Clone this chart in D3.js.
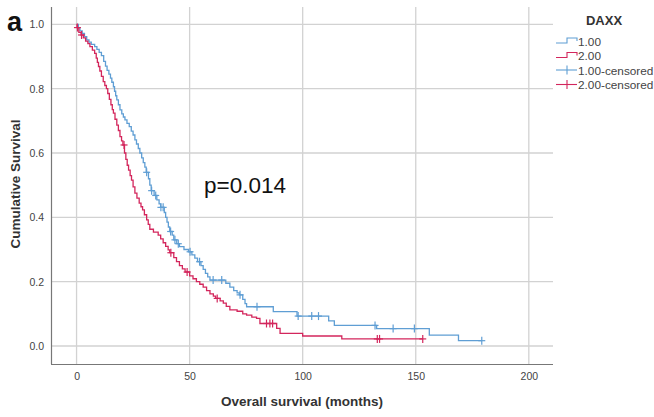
<!DOCTYPE html>
<html><head><meta charset="utf-8">
<script src="https://cdn.jsdelivr.net/npm/d3@7"></script>
<style>body{margin:0;background:#fff}svg{display:block}text{font-family:"Liberation Sans",Arial,sans-serif}</style>
</head><body><svg id="c" width="654" height="417"></svg>
<script>
// Kaplan-Meier steps: [time (months), survival after event]
const blueSteps = [[0.8,0.99],[1.5,0.98],[2.5,0.972],[3.5,0.962],[4.5,0.952],[5.5,0.945],[6.5,0.938],[8,0.931],[9,0.922],[10,0.913],[11,0.903],[12,0.885],[12.8,0.87],[13.5,0.857],[14.3,0.845],[15,0.833],[15.6,0.82],[16.3,0.806],[16.8,0.792],[17.3,0.778],[17.8,0.765],[18.5,0.75],[19.2,0.734],[20,0.722],[20.7,0.712],[21.4,0.703],[22.3,0.692],[23.3,0.682],[24.2,0.668],[25,0.656],[25.8,0.641],[26.5,0.628],[27.3,0.614],[28,0.6],[28.8,0.585],[29.5,0.57],[30.2,0.556],[30.8,0.54],[31.8,0.52],[32.4,0.5],[33,0.483],[34.3,0.468],[35.5,0.454],[36.5,0.442],[37.2,0.431],[38.8,0.415],[39.4,0.4],[40,0.385],[40.6,0.37],[41.2,0.356],[42.3,0.345],[43,0.33],[44.3,0.318],[45.5,0.309],[47.5,0.3],[49.5,0.293],[51,0.283],[52.3,0.273],[53.5,0.262],[55,0.25],[56,0.238],[57,0.226],[58,0.215],[59,0.205],[66,0.195],[67.8,0.183],[69.5,0.172],[71,0.165],[72,0.159],[73.5,0.145],[74.5,0.132],[75.2,0.122],[87,0.107],[97.5,0.093],[111.5,0.078],[114,0.064],[132.7,0.054],[156,0.034],[168.9,0.0165]];
const blueEnd = 179.2;
const blueCensored = [31,33.2,35,37.3,38.3,41.6,43.5,45,50.2,54.4,60.4,64.2,72.3,79.8,98,104,107,132,140,149.4,179.2];

const redSteps = [[0.2,0.99],[1,0.975],[2,0.967],[3,0.958],[4,0.948],[5,0.94],[5.9,0.931],[7,0.92],[8,0.91],[8.7,0.895],[9.2,0.882],[9.7,0.869],[10.3,0.855],[11,0.838],[11.8,0.822],[12.5,0.81],[13.2,0.8],[13.8,0.785],[14.5,0.767],[15.2,0.75],[15.8,0.735],[16.3,0.724],[17,0.705],[17.8,0.687],[18.5,0.67],[19.2,0.651],[19.9,0.638],[20.5,0.625],[21.2,0.6],[21.8,0.58],[22.4,0.562],[23,0.547],[23.7,0.53],[24.3,0.516],[25,0.495],[25.8,0.475],[26.7,0.46],[27.7,0.444],[28.5,0.433],[29.2,0.423],[30,0.408],[31,0.392],[31.7,0.378],[32.4,0.363],[34,0.354],[36.1,0.345],[37.2,0.333],[38.3,0.321],[39.4,0.31],[40.5,0.299],[41.2,0.29],[43,0.275],[44.2,0.262],[45.5,0.25],[46.8,0.24],[48,0.23],[50,0.218],[51.5,0.209],[53,0.2],[54.5,0.192],[56,0.183],[57.5,0.172],[59,0.162],[60.5,0.155],[61.5,0.148],[63.5,0.14],[64.9,0.133],[66.2,0.123],[67.8,0.112],[71,0.108],[73.5,0.1],[75.2,0.096],[77.5,0.09],[79.6,0.086],[81.1,0.07],[88.5,0.055],[90,0.039],[100,0.031],[117.3,0.022]];
const redEnd = 153.1;
const redCensored = [0.4,2.2,21,41.7,48.9,62.2,84,85.5,86.7,133,134,153.1];

const xTicks = [0,50,100,150,200];
const yTicks = [0.0,0.2,0.4,0.6,0.8,1.0];
const legendLabels = ["1.00","2.00","1.00-censored","2.00-censored"];
const colors = {blue:"#5f9ed4", red:"#d3265c"};

const svg = d3.select("#c");
const L=51, R=553, T=7, B=364;
const x = d3.scaleLinear().domain([-11.3,210.7]).range([L,R]);
const y = d3.scaleLinear().domain([-0.056,1.054]).range([B,T]);

// grid
const g = svg.append("g");
g.selectAll(".vg").data(xTicks).join("line")
 .attr("x1",d=>x(d)).attr("x2",d=>x(d)).attr("y1",T).attr("y2",B)
 .attr("stroke","#d2d2d2").attr("stroke-width",1.3);
g.selectAll(".hg").data(yTicks).join("line")
 .attr("x1",L).attr("x2",R).attr("y1",d=>y(d)).attr("y2",d=>y(d))
 .attr("stroke","#d2d2d2").attr("stroke-width",1.3);

// axes
const xAxis = svg.append("g").attr("transform",`translate(0,${B})`)
 .call(d3.axisBottom(x).tickValues(xTicks).tickSize(0).tickPadding(9).tickFormat(d3.format("d")));
const yAxis = svg.append("g").attr("transform",`translate(${L},0)`)
 .call(d3.axisLeft(y).tickValues(yTicks).tickSize(0).tickPadding(7).tickFormat(d3.format(".1f")));
[xAxis,yAxis].forEach(a=>{
  a.select(".domain").attr("stroke","#777").attr("stroke-width",1.2);
  a.selectAll("text").attr("fill","#444").attr("font-size",10.5).attr("font-family","Liberation Sans, Arial, sans-serif");
});
xAxis.select(".domain").attr("d",`M${L},0.5H${R}`);
yAxis.select(".domain").attr("d",`M0.5,${B}V${T}`);

function survAt(steps,t){let s=1;for(const [tt,v] of steps){if(tt<=t) s=v; else break;}return s;}
function pathFor(steps,end){
  const pts=[[0,1]];
  let s=1;
  for(const [t,v] of steps){pts.push([t,s]);pts.push([t,v]);s=v;}
  pts.push([end,s]);
  return d3.line().x(d=>x(d[0])).y(d=>y(d[1]))(pts);
}
function drawCurve(steps,end,cens,col){
  svg.append("path").attr("d",pathFor(steps,end)).attr("fill","none")
   .attr("stroke",col).attr("stroke-width",1.3);
  const cg=svg.append("g");
  cens.forEach(t=>{
    const cx=x(t), cy=y(survAt(steps,t));
    cg.append("line").attr("x1",cx).attr("x2",cx).attr("y1",cy-4).attr("y2",cy+4).attr("stroke",col).attr("stroke-width",1.2);
    cg.append("line").attr("x1",cx-3.5).attr("x2",cx+3.5).attr("y1",cy).attr("y2",cy).attr("stroke",col).attr("stroke-width",1.2);
  });
}
drawCurve(blueSteps,blueEnd,blueCensored,colors.blue);
drawCurve(redSteps,redEnd,redCensored,colors.red);

// labels
svg.append("text").attr("x",7).attr("y",31).attr("font-size",27).attr("font-weight","bold").attr("fill","#111").text("a");
svg.append("text").attr("x",204).attr("y",193).attr("font-size",22.5).attr("fill","#111").text("p=0.014");
svg.append("text").attr("x",302).attr("y",406).attr("text-anchor","middle").attr("font-size",13.5).attr("font-weight","bold").attr("fill","#333").text("Overall survival (months)");
svg.append("text").attr("transform","translate(20,184) rotate(-90)").attr("text-anchor","middle").attr("font-size",13.5).attr("font-weight","bold").attr("fill","#333").text("Cumulative Survival");

// legend
svg.append("text").attr("x",604).attr("y",25).attr("text-anchor","middle").attr("font-size",13).attr("font-weight","bold").attr("fill","#333").text("DAXX");
const legCols=[colors.blue,colors.red,colors.blue,colors.red];
legendLabels.forEach((lab,i)=>{
  const yy=42+i*14.5;
  const col=legCols[i];
  if(i<2){
    svg.append("path").attr("d",`M556,${yy+1}H567V${yy-4}H577V${yy-1}`).attr("fill","none").attr("stroke",col).attr("stroke-width",1.1);
  } else {
    svg.append("line").attr("x1",556).attr("x2",577).attr("y1",yy-1).attr("y2",yy-1).attr("stroke",col).attr("stroke-width",1.1);
    svg.append("line").attr("x1",567).attr("x2",567).attr("y1",yy-5.5).attr("y2",yy+3.5).attr("stroke",col).attr("stroke-width",1.1);
  }
  svg.append("text").attr("x",578).attr("y",yy+3.5).attr("font-size",11.8).attr("fill","#444").text(lab);
});
</script></body></html>
